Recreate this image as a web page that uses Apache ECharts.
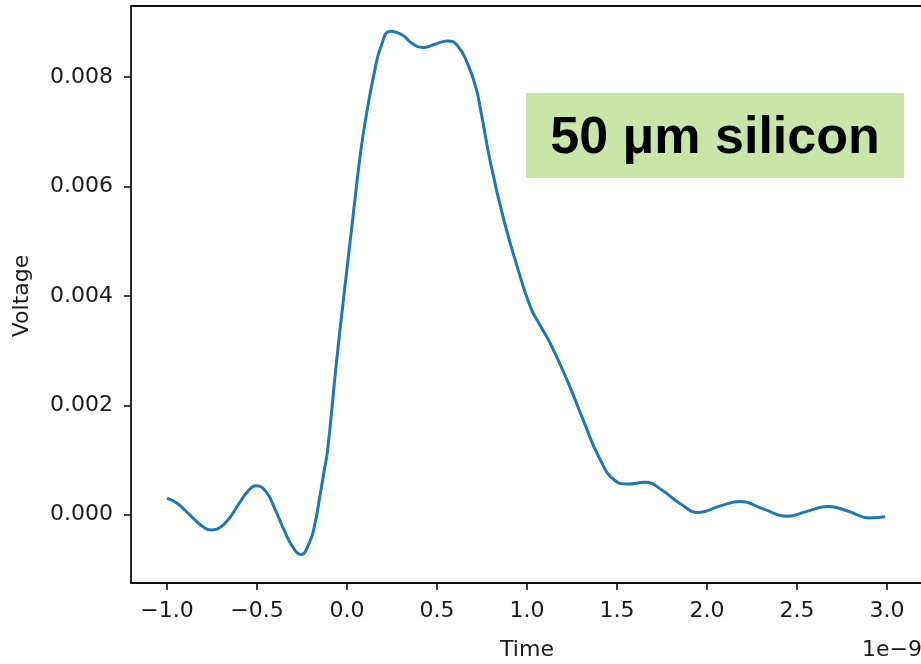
<!DOCTYPE html>
<html>
<head>
<meta charset="utf-8">
<script src="https://cdn.jsdelivr.net/npm/echarts@6/dist/echarts.min.js"></script>
<style>
html,body{margin:0;padding:0;background:#fff;overflow:hidden;}
#chart{width:921px;height:664px;}
</style>
</head>
<body>
<div id="chart"></div>
<script>
// Time in units of 1e-9 s
var timeValues = [-1.00,-0.95,-0.90,-0.85,-0.80,-0.756,-0.70,-0.65,-0.60,-0.55,-0.506,-0.45,-0.40,-0.35,-0.30,-0.256,-0.21,-0.18,-0.15,-0.127,-0.108,-0.06,-0.016,0.030,0.077,0.115,0.150,0.188,0.243,0.308,0.360,0.419,0.490,0.558,0.613,0.669,0.715,0.743,0.798,0.872,0.946,1.020,1.075,1.131,1.224,1.316,1.400,1.490,1.557,1.658,1.741,1.852,1.954,2.074,2.185,2.315,2.444,2.555,2.675,2.777,2.907,2.990];
// Voltage (V)
var voltageValues = [0.00030,0.00022,0.00008,-0.00008,-0.00022,-0.00028,-0.00022,-0.00005,0.00020,0.00043,0.00053,0.00042,0.00010,-0.00028,-0.00060,-0.00073,-0.00052,-0.00020,0.00035,0.00080,0.00117,0.00274,0.00404,0.00535,0.00666,0.00745,0.00805,0.00855,0.00884,0.00877,0.00862,0.00854,0.00860,0.00866,0.00858,0.00825,0.00782,0.00739,0.00642,0.00538,0.00453,0.00379,0.00345,0.00312,0.00245,0.00170,0.00105,0.00062,0.00056,0.00059,0.00047,0.00020,0.00004,0.00016,0.00024,0.00010,-0.00003,0.00006,0.00015,0.00007,-0.00006,-0.00004];
var xTicks = [-1.0,-0.5,0.0,0.5,1.0,1.5,2.0,2.5,3.0];
var yTicks = [0.000,0.002,0.004,0.006,0.008];

var seriesData = timeValues.map(function(t,i){return [t, voltageValues[i]];});
var tickFont = {fontFamily:'DejaVu Sans', fontSize:22, color:'#1a1a1a'};

var chart = echarts.init(document.getElementById('chart'), null, {renderer:'canvas'});
chart.setOption({
  animation:false,
  backgroundColor:'#fff',
  grid:{left:131, top:6, width:800, height:577, outerBoundsMode:'none', containLabel:false, show:false},
  xAxis:[{
    type:'value', min:-1.2, max:3.2444,
    axisLine:{show:true, onZero:false, lineStyle:{color:'#111', width:1.8}},
    axisTick:{show:true, inside:false, length:7, lineStyle:{color:'#111', width:1.6}, customValues:xTicks},
    axisLabel:Object.assign({margin:17, customValues:xTicks, formatter:function(v){return v.toFixed(1).replace('-', '\u2212');}}, tickFont),
    splitLine:{show:false}
  },{
    type:'value', position:'top', min:-1.2, max:3.2444,
    axisLine:{show:true, onZero:false, lineStyle:{color:'#111', width:1.8}},
    axisTick:{show:false}, axisLabel:{show:false}, splitLine:{show:false}
  }],
  yAxis:{
    type:'value', min:-0.00125, max:0.0093,
    axisLine:{show:true, onZero:false, lineStyle:{color:'#111', width:1.8}},
    axisTick:{show:true, inside:false, length:7, lineStyle:{color:'#111', width:1.6}, customValues:yTicks},
    axisLabel:Object.assign({margin:18, customValues:yTicks, formatter:function(v){return v.toFixed(3);}}, tickFont),
    splitLine:{show:false}
  },
  series:[{
    type:'line', data:seriesData, smooth:0.5, showSymbol:false, xAxisIndex:0,
    lineStyle:{color:'#1f77b4', width:3}, clip:true
  }],
  graphic:[
    {type:'rect', z:100, shape:{x:912, y:8, width:12, height:573}, style:{fill:'#fff'}},
    {type:'text', x:527, y:650, style:{text:'Time', fontFamily:'DejaVu Sans', fontSize:22, fill:'#1a1a1a', align:'center', verticalAlign:'middle'}},
    {type:'text', x:922, y:650, style:{text:'1e\u22129', fontFamily:'DejaVu Sans', fontSize:22, fill:'#1a1a1a', align:'right', verticalAlign:'middle'}},
    {type:'text', x:22, y:296, rotation:Math.PI/2, style:{text:'Voltage', fontFamily:'DejaVu Sans', fontSize:22, fill:'#1a1a1a', align:'center', verticalAlign:'middle'}},
    {type:'rect', shape:{x:526, y:93, width:378, height:85}, style:{fill:'#c7e6a7'}},
    {type:'text', x:715, y:139, style:{text:'50 \u03bcm silicon', fontFamily:'Liberation Sans, Arial', fontWeight:'bold', fontSize:52, fill:'#000', align:'center', verticalAlign:'middle'}}
  ]
});
</script>
</body>
</html>
